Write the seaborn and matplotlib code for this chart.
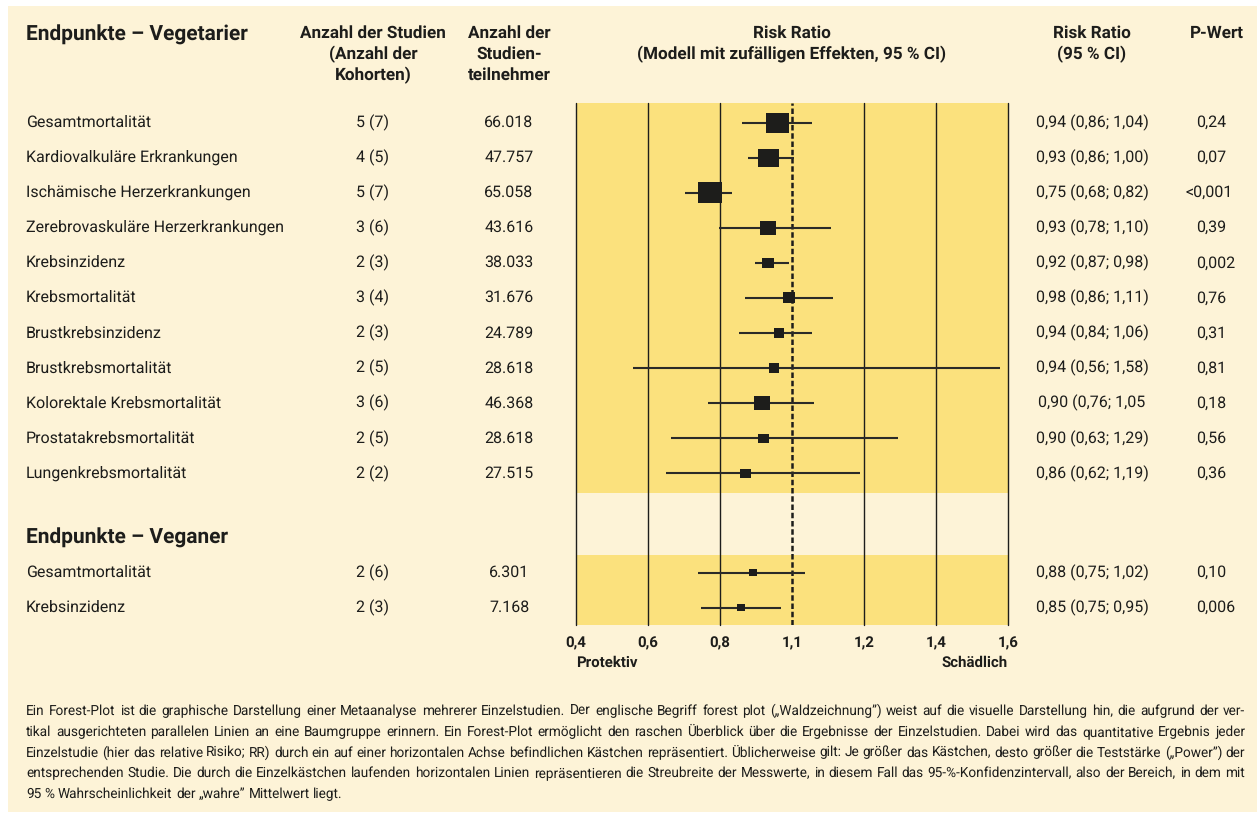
import numpy as np
import pandas as pd
import matplotlib
matplotlib.use("Agg")
import matplotlib.pyplot as plt
import matplotlib.transforms as mtransforms
from matplotlib.patches import Rectangle
from matplotlib.markers import MarkerStyle
import seaborn as sns

# ---------------- data ----------------
endpoints_veg = ["Gesamtmortalität", "Kardiovalkuläre Erkrankungen", "Ischämische Herzerkrankungen",
                 "Zerebrovaskuläre Herzerkrankungen", "Krebsinzidenz", "Krebsmortalität",
                 "Brustkrebsinzidenz", "Brustkrebsmortalität", "Kolorektale Krebsmortalität",
                 "Prostatakrebsmortalität", "Lungenkrebsmortalität"]
studies_veg = ["5 (7)", "4 (5)", "5 (7)", "3 (6)", "2 (3)", "3 (4)", "2 (3)", "2 (5)", "3 (6)", "2 (5)", "2 (2)"]
participants_veg = ["66.018", "47.757", "65.058", "43.616", "38.033", "31.676", "24.789", "28.618",
                    "46.368", "28.618", "27.515"]
rr_text_veg = ["0,94 (0,86; 1,04)", "0,93 (0,86; 1,00)", "0,75 (0,68; 0,82)", "0,93 (0,78; 1,10)",
               "0,92 (0,87; 0,98)", "0,98 (0,86; 1,11)", "0,94 (0,84; 1,06)", "0,94 (0,56; 1,58)",
               "0,90 (0,76; 1,05", "0,90 (0,63; 1,29)", "0,86 (0,62; 1,19)"]
p_veg = ["0,24", "0,07", "<0,001", "0,39", "0,002", "0,76", "0,31", "0,81", "0,18", "0,56", "0,36"]
# plotted marks (as drawn in the figure)
rr_veg = [0.96, 0.935, 0.772, 0.933, 0.933, 0.992, 0.964, 0.95, 0.917, 0.92, 0.87]
lo_veg = [0.861, 0.878, 0.703, 0.797, 0.897, 0.869, 0.853, 0.558, 0.766, 0.664, 0.65]
hi_veg = [1.056, 1.006, 0.833, 1.108, 0.992, 1.114, 1.056, 1.578, 1.062, 1.294, 1.19]
weight_veg = [23, 20.7, 23.7, 15.7, 12.3, 12.7, 10.7, 10.7, 15.7, 11, 10.7]

endpoints_vegan = ["Gesamtmortalität", "Krebsinzidenz"]
studies_vegan = ["2 (6)", "2 (3)"]
participants_vegan = ["6.301", "7.168"]
rr_text_vegan = ["0,88 (0,75; 1,02)", "0,85 (0,75; 0,95)"]
p_vegan = ["0,10", "0,006"]
rr_vegan = [0.892, 0.858]
lo_vegan = [0.74, 0.747]
hi_vegan = [1.036, 0.969]
weight_vegan = [7.7, 8]

tick_values = [0.4, 0.6, 0.8, 1.0, 1.2, 1.4, 1.6]
tick_labels = ["0,4", "0,6", "0,8", "1,1", "1,2", "1,4", "1,6"]

footnote_lines = [
    "Ein Forest-Plot ist die graphische Darstellung einer Metaanalyse mehrerer Einzelstudien. Der englische Begriff forest plot („Waldzeichnung”) weist auf die visuelle Darstellung hin, die aufgrund der ver-",
    "tikal ausgerichteten parallelen Linien an eine Baumgruppe erinnern. Ein Forest-Plot ermöglicht den raschen Überblick über die Ergebnisse der Einzelstudien. Dabei wird das quantitative Ergebnis jeder",
    "Einzelstudie (hier das relative Risiko; RR) durch ein auf einer horizontalen Achse befindlichen Kästchen repräsentiert. Üblicherweise gilt: Je größer das Kästchen, desto größer die Teststärke („Power”) der",
    "entsprechenden Studie. Die durch die Einzelkästchen laufenden horizontalen Linien repräsentieren die Streubreite der Messwerte, in diesem Fall das 95-%-Konfidenzintervall, also der Bereich, in dem mit",
    "95 % Wahrscheinlichkeit der „wahre” Mittelwert liegt.",
]

# ---------------- layout ----------------
W, H = 1257, 814
DARK = "#1d1d1b"
YELLOW = "#FBE17D"
CREAM = "#FDF3D7"

sns.set_style("white")
plt.rcParams["font.family"] = ["Roboto", "DejaVu Sans"]
plt.rcParams["text.hinting"] = "no_hinting"

n_veg = len(endpoints_veg)
rows_veg = list(range(n_veg))
vegan_start = n_veg - 1 + 2.83
rows_vegan = [vegan_start + i for i in range(len(endpoints_vegan))]
vegan_header_row = vegan_start - 1.0

df = pd.DataFrame({
    "row": rows_veg + rows_vegan,
    "rr": rr_veg + rr_vegan,
    "lo": lo_veg + lo_vegan,
    "hi": hi_veg + hi_vegan,
    "weight": weight_veg + weight_vegan,
})

fig = plt.figure(figsize=(W / 100, H / 100), dpi=100)
fig.patch.set_facecolor("white")
fig.patches.append(Rectangle((8 / W, 1 - 812 / H), (W - 8) / W, (812 - 6) / H,
                             transform=fig.transFigure, facecolor=CREAM, edgecolor="none", zorder=-10))

ax_top, ax_bot = 103, 625
ax = fig.add_axes([576 / W, 1 - ax_bot / H, 432 / W, (ax_bot - ax_top) / H])
ax.set_facecolor("none")
y_top, y_bot = -0.556, 14.32
ax.set_xlim(0.4, 1.6)
ax.set_ylim(y_bot, y_top)

band1_end = n_veg - 0.45
band2_end = vegan_start - 0.51
ax.axhspan(y_top, band1_end, color=YELLOW, lw=0, zorder=0)
ax.axhspan(band1_end, band2_end, color=CREAM, lw=0, zorder=0)
ax.axhspan(band2_end, y_bot, color=YELLOW, lw=0, zorder=0)

for t in tick_values:
    if t == 1.0:
        ax.axvline(t, color=DARK, lw=1.8, ls=(0, (2.2, 1.1)), zorder=1)
    else:
        ax.axvline(t, color=DARK, lw=1.0, zorder=1, clip_on=False)

ax.hlines(df["row"], df["lo"], df["hi"], color="#2a2a28", lw=1.5, zorder=2)

rect = MarkerStyle([(-0.575, -0.5), (0.575, -0.5), (0.575, 0.5), (-0.575, 0.5), (-0.575, -0.5)])
size_map = {w: (w * 0.72) ** 2 for w in df["weight"].unique()}
sns.scatterplot(data=df, x="rr", y="row", size="weight", sizes=size_map, marker=rect,
                color=DARK, edgecolor="none", linewidth=0, legend=False, ax=ax, zorder=3)

ax.set_xticks(tick_values)
ax.set_xticklabels(tick_labels, fontweight="bold", fontsize=10.8, color=DARK)
ax.tick_params(axis="x", length=0, pad=8)
ax.set_yticks([])
ax.set_xlabel("")
ax.set_ylabel("")
for s in ax.spines.values():
    s.set_visible(False)

# Protektiv / Schädlich
fig.text(576 / W, 1 - 663 / H, "Protektiv", ha="left", va="center", fontsize=10.8,
         fontweight="bold", color=DARK)
fig.text(1008 / W, 1 - 663 / H, "Schädlich", ha="right", va="center", fontsize=10.8,
         fontweight="bold", color=DARK)

# ---------------- table text ----------------
tr = mtransforms.blended_transform_factory(fig.transFigure, ax.transData)
X_LABEL, X_STUD, X_PART, X_RR, X_P = 26, 373, 509, 1092, 1196
body_fs = 11.5

def row_texts(rows, names, studs, parts, rrs, ps):
    for r, nm, st, pa, rt, pv in zip(rows, names, studs, parts, rrs, ps):
        fig.text(X_LABEL / W, r, nm, transform=tr, ha="left", va="center", fontsize=body_fs, color=DARK)
        fig.text(X_STUD / W, r, st, transform=tr, ha="center", va="center", fontsize=body_fs, color=DARK)
        fig.text(X_PART / W, r, pa, transform=tr, ha="center", va="center", fontsize=body_fs, color=DARK)
        fig.text(X_RR / W, r, rt, transform=tr, ha="center", va="center", fontsize=body_fs, color=DARK)
        xp = X_P - 11 if pv.startswith("<") else X_P
        fig.text(xp / W, r, pv, transform=tr, ha="left", va="center", fontsize=body_fs, color=DARK)

row_texts(rows_veg, endpoints_veg, studies_veg, participants_veg, rr_text_veg, p_veg)
row_texts(rows_vegan, endpoints_vegan, studies_vegan, participants_vegan, rr_text_vegan, p_vegan)

fig.text(X_LABEL / W, vegan_header_row, "Endpunkte – Veganer", transform=tr, ha="left", va="center",
         fontsize=15, fontweight="bold", color=DARK)

# ---------------- header ----------------
def ftext(x, y, s, **kw):
    fig.text(x / W, 1 - y / H, s, color=DARK, **kw)

ftext(X_LABEL, 35, "Endpunkte – Vegetarier", ha="left", va="center", fontsize=15, fontweight="bold")
hdr = dict(ha="center", va="center", fontsize=12.3, fontweight="bold")
for y, s in zip([33, 54, 75], ["Anzahl der Studien", "(Anzahl der", "Kohorten)"]):
    ftext(X_STUD, y, s, **hdr)
for y, s in zip([33, 54, 75], ["Anzahl der", "Studien-", "teilnehmer"]):
    ftext(X_PART, y, s, **hdr)
for y, s in zip([33, 54], ["Risk Ratio", "(Modell mit zufälligen Effekten, 95 % CI)"]):
    ftext(792, y, s, **hdr)
for y, s in zip([33, 54], ["Risk Ratio", "(95 % CI)"]):
    ftext(X_RR, y, s, **hdr)
ftext(1217, 33, "P-Wert", **hdr)

# ---------------- footnote (justified) ----------------
fig.canvas.draw()
renderer = fig.canvas.get_renderer()
foot_fs = 9.8
x_left, x_right = 26, 1245
baselines = [715, 736, 756.5, 777, 798]

t1 = fig.text(0, 0, "a a", fontsize=foot_fs)
t2 = fig.text(0, 0, "aa", fontsize=foot_fs)
space_w = t1.get_window_extent(renderer).width - t2.get_window_extent(renderer).width
t1.remove(); t2.remove()

for i, line in enumerate(footnote_lines):
    words = line.split(" ")
    yb = 1 - baselines[i] / H
    texts = [fig.text(0, yb, w, fontsize=foot_fs, ha="left", va="baseline", color=DARK) for w in words]
    widths = [t.get_window_extent(renderer).width for t in texts]
    if i < len(footnote_lines) - 1:
        gap = max((x_right - x_left - sum(widths)) / (len(words) - 1), 0.6 * space_w)
    else:
        gap = space_w
    x = x_left
    for t, wd in zip(texts, widths):
        t.set_x(x / W)
        x += wd + gap

fig.savefig("out.png", dpi=100, facecolor=fig.get_facecolor())
